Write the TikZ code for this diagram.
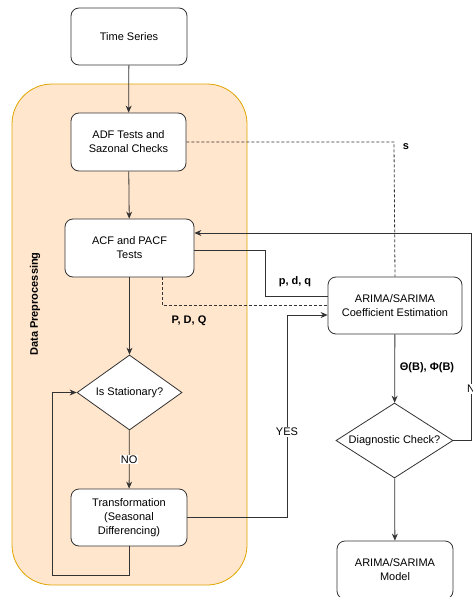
\documentclass[tikz,border=0pt]{standalone}
\usepackage{fontspec}
\setmainfont{Liberation Sans}
\usetikzlibrary{shapes.geometric,arrows.meta,positioning}

\definecolor{groupfill}{HTML}{FFE6CC}
\definecolor{groupline}{HTML}{E0A400}
\definecolor{ink}{HTML}{333333}

\tikzset{
  stepbox/.style={draw=ink, fill=white, rounded corners=8pt, align=center,
    inner sep=2pt, font=\fontsize{11}{14}\selectfont, line width=0.8pt},
  decision/.style={draw=ink, fill=white, diamond, inner sep=0pt,
    line width=0.8pt},
  decisiontext/.style={font=\fontsize{11}{14}\selectfont, inner sep=0pt},
  flow/.style={draw=ink, line width=0.8pt},
  arrowflow/.style={flow, -{Stealth[length=7pt,width=6pt]}},
  dashflow/.style={draw=ink, line width=0.8pt, dash pattern=on 3pt off 2pt},
  paramlabel/.style={font=\bfseries\fontsize{11}{13}\selectfont, inner sep=1pt},
  edgelabel/.style={font=\fontsize{11}{13}\selectfont, fill=white, inner sep=1pt},
}

\begin{document}
\begin{tikzpicture}[x=1pt,y=-1pt]
\useasboundingbox (0,0) rectangle (472,597);

% preprocessing group
\draw[fill=groupfill, draw=groupline, line width=0.8pt, rounded corners=40pt]
  (12,84) rectangle (247,585);
\node[rotate=90, font=\bfseries\fontsize{11}{13}\selectfont] (grp) at (35,304) {Data Preprocessing};

% steps
\node[stepbox, minimum width=116pt, minimum height=57pt] (ts) at (129,36.5) {Time Series};
\node[stepbox, minimum width=115pt, minimum height=58pt] (adf) at (128.5,142) {ADF Tests and\\Sazonal Checks};
\node[stepbox, minimum width=129pt, minimum height=58pt] (acf) at (129.5,248) {ACF and PACF\\Tests};
\node[decision, minimum width=105pt, minimum height=75pt] (stat) at (129.5,392.5) {};
\node[decisiontext] (stattext) at (stat) {Is Stationary?};
\node[stepbox, minimum width=116pt, minimum height=57pt] (trans) at (129,517.5) {Transformation\\(Seasonal\\Differencing)};
\node[stepbox, minimum width=134pt, minimum height=57pt] (est) at (395,305.5) {ARIMA/SARIMA\\Coefficient Estimation};
\node[decision, minimum width=117pt, minimum height=75pt] (diag) at (394.5,440.5) {};
\node[decisiontext] (diagtext) at (diag) {Diagnostic Check?};
\node[stepbox, minimum width=116pt, minimum height=58pt] (model) at (395,570) {ARIMA/SARIMA\\Model};

% bend points
\coordinate (loopA) at (129,575);
\coordinate (loopB) at (52,575);
\coordinate (loopC) at (52,392.5);
\coordinate (yesA) at (287,517.5);
\coordinate (yesB) at (287,315);
\coordinate (pdqA) at (265,250);
\coordinate (pdqB) at (265,296);
\coordinate (capA) at (162,277);
\coordinate (capB) at (162,305.5);
\coordinate (sA) at (394,142);
\coordinate (noA) at (471,440.5);
\coordinate (noB) at (471,233);

% main flow
\draw[arrowflow] (ts) -- (adf);
\draw[arrowflow] (adf) -- (acf);
\draw[arrowflow] (acf) -- (stat);
\draw[arrowflow] (stat) -- node[edgelabel] (nolbl) {NO} (trans);
\draw[arrowflow] (trans.south) -- (loopA) -- (loopB) -- (loopC) -- (stat.west);

% transformed series to estimation
\draw[arrowflow] (trans.east) -- (yesA) -- (yesB) -- ([yshift=-9.5pt]est.west);
\node[edgelabel] (yeslbl) at (287,432) {YES};

% orders to estimation
\draw[flow] ([yshift=-2pt]acf.east) -- (pdqA) -- (pdqB) -- ([yshift=9.5pt]est.west);
\node[paramlabel] (pdq) at (295,282) {p, d, q};
\draw[dashflow] (capA) -- (capB) -- (est.west);
\node[paramlabel] (PDQ) at (189,321) {P, D, Q};
\draw[dashflow] (adf.east) -- (sA) -- (est.north);
\node[paramlabel] (slbl) at (406,147) {s};

% estimation, diagnostics, model
\draw[arrowflow] (est) -- (diag);
\node[paramlabel] (coef) at (427,368) {Θ(B), Φ(B)};
\draw[arrowflow] (diag) -- (model);
\draw[arrowflow] (diag.east) -- (noA) -- (noB) -- ([yshift=15pt]acf.east);
\node[edgelabel, anchor=west] (nolbl2) at (466,389) {NO};
\end{tikzpicture}
\end{document}
